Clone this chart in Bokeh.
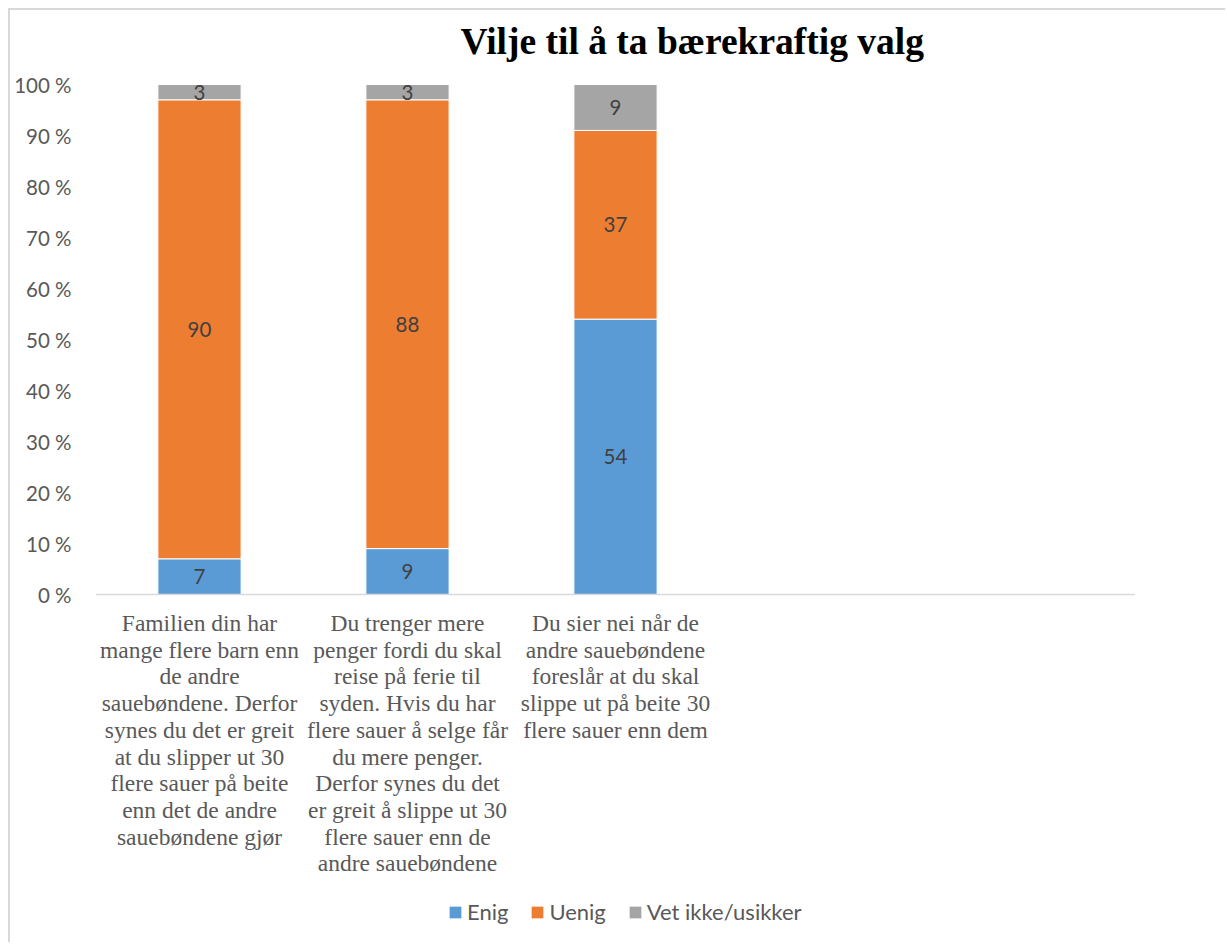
from bokeh.plotting import figure
from bokeh.models import ColumnDataSource, FactorRange, FixedTicker, Legend, LegendItem, Span
from bokeh.core.properties import value
from bokeh.embed import file_html
from bokeh.resources import INLINE

# ---- data ----
title_text = "Vilje til å ta bærekraftig valg"
categories = [
    "Familien din har\nmange flere barn enn\nde andre\nsauebøndene. Derfor\nsynes du det er greit\nat du slipper ut 30\nflere sauer på beite\nenn det de andre\nsauebøndene gjør",
    "Du trenger mere\npenger fordi du skal\nreise på ferie til\nsyden. Hvis du har\nflere sauer å selge får\ndu mere penger.\nDerfor synes du det\ner greit å slippe ut 30\nflere sauer enn de\nandre sauebøndene",
    "Du sier nei når de\nandre sauebøndene\nforeslår at du skal\nslippe ut på beite 30\nflere sauer enn dem",
]
empty_slots = [" ", "  "]
series_names = ["Enig", "Uenig", "Vet ikke/usikker"]
enig = [7, 9, 54]
uenig = [90, 88, 37]
vet = [3, 3, 9]
colors = ["#5B9BD5", "#ED7D31", "#A5A5A5"]
y_ticks = [0, 10, 20, 30, 40, 50, 60, 70, 80, 90, 100]
y_tick_labels = [f"{t} %" for t in y_ticks]

# layout sizes (pixels)
VALUE_AREA_H = 510          # height of the 0..100 % band
TOP_AREA_H = 74             # title area above 100 %
BOTTOM_AREA_H = 348         # category texts and legend below 0 %
FRAME_H = TOP_AREA_H + VALUE_AREA_H + BOTTOM_AREA_H
px_per_unit = VALUE_AREA_H / 100.0
y_start = -BOTTOM_AREA_H / px_per_unit
y_end = 100 + TOP_AREA_H / px_per_unit

src = ColumnDataSource(dict(cat=categories, Enig=enig, Uenig=uenig, Vet=vet))

p = figure(
    x_range=FactorRange(*(categories + empty_slots)),
    y_range=(y_start, y_end),
    frame_width=1040, frame_height=FRAME_H,
    output_backend="svg", toolbar_location=None,
    min_border_left=85, min_border_right=90, min_border_top=0, min_border_bottom=0,
)
p.margin = (8, 0, 0, 8)
p.styles = {"border-left": "2px solid #d9d9d9", "border-top": "2px solid #d9d9d9"}

p.outline_line_color = None
p.xgrid.grid_line_color = None
p.ygrid.grid_line_color = None
p.background_fill_color = None

rs = p.vbar_stack(["Enig", "Uenig", "Vet"], x="cat", width=0.4, color=colors,
                  line_color="white", line_width=1, source=src)

# chart title, anchored at the top-left of the value band
p.text(x=[0], y=[100], text=[title_text], x_offset=365, y_offset=-43,
       text_align="left", text_baseline="middle",
       text_font=value("Liberation Serif"), text_font_style="bold",
       text_font_size="37.5px", text_color="#000000")

# category axis baseline
p.add_layout(Span(location=0, dimension="width", line_color="#d9d9d9", line_width=1.5))

# data labels at segment midpoints
lab_x, lab_y, lab_t = [], [], []
for i, c in enumerate(categories):
    base = 0
    for v in (enig[i], uenig[i], vet[i]):
        lab_x.append(c)
        lab_y.append(base + v / 2)
        lab_t.append(str(v))
        base += v
p.text(x=lab_x, y=lab_y, text=lab_t, text_align="center", text_baseline="middle",
       text_font=value("Lato"), text_font_size="20.5px", text_color="#404040")

# category labels, one text per wrapped line, under the baseline
cx, cy, ct, coff = [], [], [], []
for c in categories:
    for k, line in enumerate(c.split("\n")):
        cx.append(c)
        cy.append(0)
        ct.append(line)
        coff.append(28.5 + k * 26.7)
p.text(x=cx, y=cy, text=ct, y_offset=coff, text_align="center", text_baseline="middle",
       text_font=value("Liberation Serif"), text_font_size="23.5px", text_color="#595959")

# y axis
p.yaxis.ticker = FixedTicker(ticks=y_ticks)
p.yaxis.major_label_overrides = dict(zip(y_ticks, y_tick_labels))
p.yaxis.axis_line_color = None
p.yaxis.major_tick_line_color = None
p.yaxis.minor_tick_line_color = None
p.yaxis.major_tick_out = 0
p.yaxis.major_tick_in = 0
p.yaxis.major_label_standoff = 24
p.yaxis.major_label_text_font = "Lato"
p.yaxis.major_label_text_font_size = "20.5px"
p.yaxis.major_label_text_color = "#595959"

# x axis hidden (labels and baseline drawn above)
p.xaxis.visible = False

legend = Legend(items=[LegendItem(label=n, renderers=[r]) for n, r in zip(series_names, rs)],
                orientation="horizontal", location=(352, 17))
legend.label_text_font = "Lato"
legend.label_text_font_size = "22px"
legend.label_text_color = "#595959"
legend.glyph_width = 16
legend.glyph_height = 16
legend.spacing = 21
legend.label_standoff = 4
legend.padding = 0
legend.margin = 0
legend.border_line_color = None
legend.background_fill_color = None
legend.background_fill_alpha = 0
p.add_layout(legend, "center")

open("out.html", "w").write(file_html(p, INLINE))
